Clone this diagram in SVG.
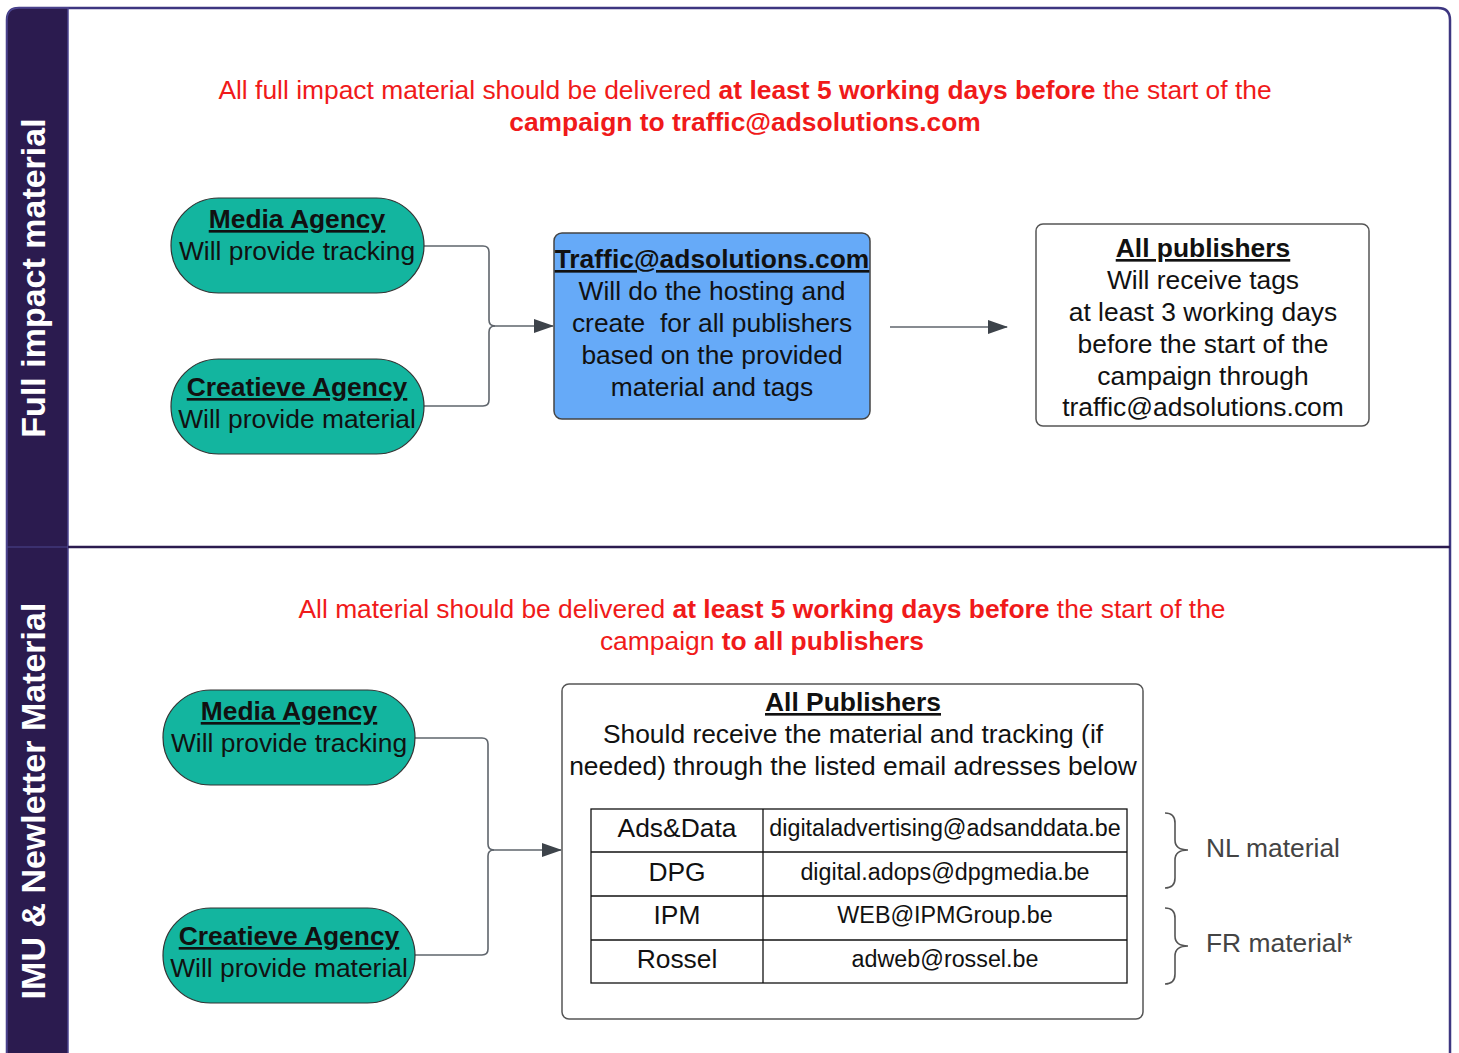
<svg xmlns="http://www.w3.org/2000/svg" width="1459" height="1053" viewBox="0 0 1459 1053">
<style>
text{font-family:"Liberation Sans",Arial,sans-serif;}
.t{font-size:26.4px;fill:#111;text-anchor:middle;}
.b{font-weight:bold;}
.u{text-decoration:underline;}
.red{font-size:26.4px;fill:#f01a1a;text-anchor:middle;}
.lane{font-size:34px;font-weight:bold;fill:#fff;text-anchor:middle;}
.pill{fill:#13b59f;stroke:#333;stroke-width:1.2;}
.box{fill:#fff;stroke:#555;stroke-width:1.5;}
.conn{fill:none;stroke:#5f656c;stroke-width:1.6;}
.cell{fill:none;stroke:#111;stroke-width:1.3;}
.c2{font-size:23.3px;fill:#111;text-anchor:middle;}
.note{font-size:26.4px;fill:#444;}
.brace{fill:none;stroke:#555;stroke-width:1.6;}
</style>
<defs>
<marker id="ah" viewBox="0 0 20 16" refX="19" refY="8" markerWidth="20" markerHeight="16" markerUnits="userSpaceOnUse" orient="auto">
<path d="M0,1 L20,8 L0,15 Z" fill="#3d434a"/>
</marker>
</defs>
<rect width="1459" height="1053" fill="#fff"/>
<g id="frame">
<path d="M7,1060 V20 Q7,8 19,8 H1438 Q1450,8 1450,20 V1060" fill="none" stroke="#3d3680" stroke-width="2.5"/>
<path d="M7,1060 V20 Q7,8 19,8 H68 V1060 Z" fill="#2b1b4f" stroke="#4d4690" stroke-width="1.5"/>
<line x1="68" y1="547" x2="1450" y2="547" stroke="#2b1b4f" stroke-width="2.5"/>
<line x1="7" y1="547" x2="68" y2="547" stroke="#4d4690" stroke-width="1"/>
</g>
<g id="lane1">
<text class="lane" transform="translate(45,278) rotate(-90)">Full impact material</text>
</g>
<g id="lane2">
<text class="lane" transform="translate(45,801) rotate(-90)">IMU &amp; Newletter Material</text>
</g>
<g id="note1">
<text class="red" x="745" y="99">All full impact material should be delivered <tspan class="b">at least 5 working days before</tspan> the start of the</text>
<text class="red b" x="745" y="131">campaign to traffic@adsolutions.com</text>
</g>
<g id="note2">
<text class="red" x="762" y="618">All material should be delivered <tspan class="b">at least 5 working days before</tspan> the start of the</text>
<text class="red" x="762" y="650">campaign <tspan class="b">to all publishers</tspan></text>
</g>
<g id="connectors">
<path class="conn" d="M424,246 H483 Q489,246 489,252 V320 Q489,326 495,326 H553" marker-end="url(#ah)"/>
<path class="conn" d="M424,406 H483 Q489,406 489,400 V332 Q489,326 495,326"/>
<path class="conn" d="M890,327 H1007" marker-end="url(#ah)"/>
<path class="conn" d="M415,738 H482 Q488,738 488,744 V844 Q488,850 494,850 H561" marker-end="url(#ah)"/>
<path class="conn" d="M415,955 H482 Q488,955 488,949 V856 Q488,850 494,850"/>
</g>
<g id="media1">
<rect class="pill" x="171" y="198" width="253" height="95" rx="47.5"/>
<text class="t b u" x="297" y="228">Media Agency</text>
<text class="t" x="297" y="260">Will provide tracking</text>
</g>
<g id="creative1">
<rect class="pill" x="171" y="359" width="253" height="95" rx="47.5"/>
<text class="t b u" x="297" y="396">Creatieve Agency</text>
<text class="t" x="297" y="428">Will provide material</text>
</g>
<g id="traffic">
<rect x="554" y="233" width="316" height="186" rx="8" fill="#66aaf8" stroke="#444" stroke-width="1.5"/>
<text class="t b u" x="712" y="268">Traffic@adsolutions.com</text>
<text class="t" x="712" y="300">Will do the hosting and</text>
<text class="t" x="712" y="332">create&#160; for all publishers</text>
<text class="t" x="712" y="364">based on the provided</text>
<text class="t" x="712" y="396">material and tags</text>
</g>
<g id="publishers1">
<rect class="box" x="1036" y="224" width="333" height="202" rx="7"/>
<text class="t b u" x="1203" y="257">All publishers</text>
<text class="t" x="1203" y="289">Will receive tags</text>
<text class="t" x="1203" y="321">at least 3 working days</text>
<text class="t" x="1203" y="353">before the start of the</text>
<text class="t" x="1203" y="385">campaign through</text>
<text class="t" x="1203" y="416">traffic@adsolutions.com</text>
</g>
<g id="media2">
<rect class="pill" x="163" y="690" width="252" height="95" rx="47.5"/>
<text class="t b u" x="289" y="720">Media Agency</text>
<text class="t" x="289" y="752">Will provide tracking</text>
</g>
<g id="creative2">
<rect class="pill" x="163" y="908" width="252" height="95" rx="47.5"/>
<text class="t b u" x="289" y="945">Creatieve Agency</text>
<text class="t" x="289" y="977">Will provide material</text>
</g>
<g id="publishers2">
<rect class="box" x="562" y="684" width="581" height="335" rx="7"/>
<text class="t b u" x="853" y="711">All Publishers</text>
<text class="t" x="853" y="743">Should receive the material and tracking (if</text>
<text class="t" x="853" y="775">needed) through the listed email adresses below</text>
</g>
<g id="table">
<rect class="cell" x="591" y="809" width="536" height="174"/>
<line class="cell" x1="763" y1="809" x2="763" y2="983"/>
<line class="cell" x1="591" y1="852" x2="1127" y2="852"/>
<line class="cell" x1="591" y1="896" x2="1127" y2="896"/>
<line class="cell" x1="591" y1="940" x2="1127" y2="940"/>
<text class="t" x="677" y="837">Ads&amp;Data</text>
<text class="t" x="677" y="881">DPG</text>
<text class="t" x="677" y="924">IPM</text>
<text class="t" x="677" y="968">Rossel</text>
<text class="c2" x="945" y="836">digitaladvertising@adsanddata.be</text>
<text class="c2" x="945" y="880">digital.adops@dpgmedia.be</text>
<text class="c2" x="945" y="923">WEB@IPMGroup.be</text>
<text class="c2" x="945" y="967">adweb@rossel.be</text>
</g>
<g id="nl">
<path class="brace" d="M1165,813 Q1175,813 1175,823 V840 Q1175,850 1188,850 Q1175,850 1175,860 V878 Q1175,888 1165,888"/>
<text class="note" x="1206" y="857">NL material</text>
</g>
<g id="fr">
<path class="brace" d="M1165,908 Q1175,908 1175,918 V936 Q1175,946 1188,946 Q1175,946 1175,956 V974 Q1175,984 1165,984"/>
<text class="note" x="1206" y="952">FR material*</text>
</g>
</svg>
